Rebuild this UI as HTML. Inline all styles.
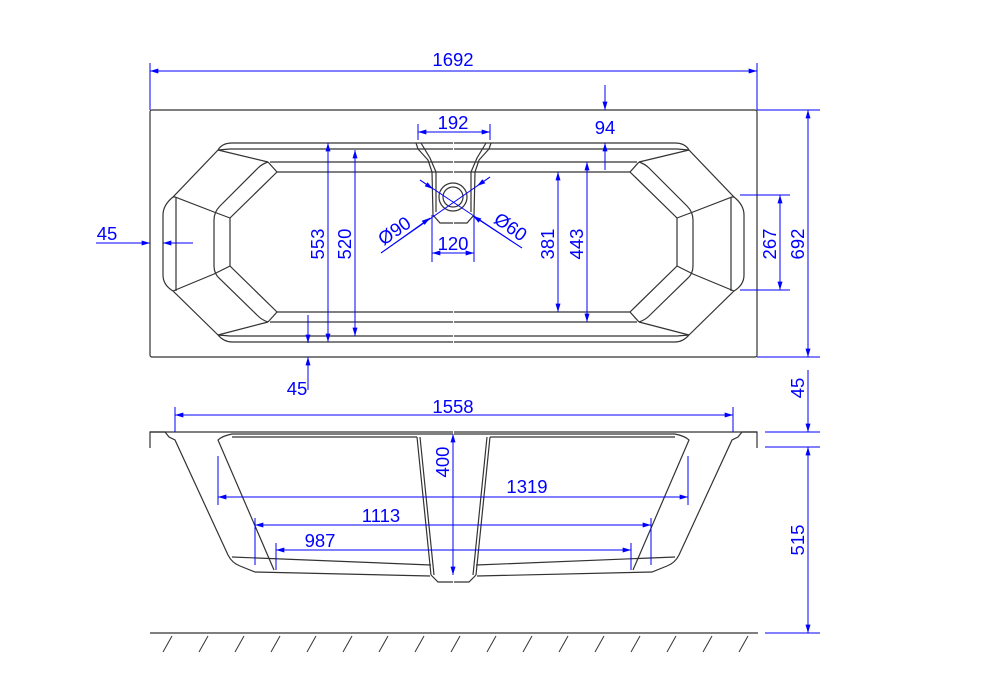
<!DOCTYPE html>
<html><head><meta charset="utf-8"><style>
html,body{margin:0;padding:0;background:#fff;}
svg{display:block;}
text{font-family:"Liberation Sans",sans-serif;font-size:18.5px;fill:#0000ff;}
</style></head><body>
<svg width="993" height="700" viewBox="0 0 993 700" xmlns="http://www.w3.org/2000/svg">
<defs>
<marker id="a" viewBox="0 0 10 6" refX="10" refY="3" markerWidth="12" markerHeight="5" markerUnits="userSpaceOnUse" orient="auto-start-reverse"><path d="M0,0 L10,3 L0,6 z" fill="#0000ff"/></marker>
</defs>
<g fill="none" stroke="#333" stroke-width="1.2">
<rect x="150" y="110" width="607" height="247" rx="2"/>
<g id="half">
<path d="M453,143 L232,143 Q222,143 218,150 L173,197 Q163,205 163,215 L163,275 Q163,285 173,291 L218,335 Q224,342 232,342 L453,342"/>
<path d="M453,149 L230,149 L218,150"/>
<path d="M453,336 L230,336 L218,335"/>
<path d="M218,150 L268,162 M218,335 L268,322"/>
<path d="M270,162 L453,162 M270,322 L453,322"/>
<path d="M268,162 Q262,164 258,168 L220,206 Q214,212 214,220 L214,266 Q214,274 220,279 L258,316 Q262,320 268,322"/>
<path d="M277,172 L453,172 M277,312 L453,312"/>
<path d="M277,172 L230,218 L230,266 L277,312"/>
<path d="M277,172 L268,162 M277,312 L268,322"/>
<path d="M173,197 L175,197 L214,212 M173,291 L214,274 M214,212 L230,218 M214,274 L230,266"/>
<path d="M176,197 L176,291"/>
<path d="M416,143 L418,149 L428,160 L432,172 L433,215 L440,223 L453,223"/>
<path d="M421,143 L430,158 L436,172 L436,212"/>
<path d="M150,448 L150,432 L453,432"/>
<path d="M150,432 L165,432 L169,437 L175,440 L228,555 Q232,563 240,566 L255,572 L430,576"/>
<path d="M232,434 L453,434 M232,437 L417,437"/>
<path d="M232,434 Q222,436 218,440 L274,570"/>
<path d="M232,557 L431,565"/>
<path d="M417,437 L431,575 M420,437 L434,575"/>
<path d="M431,575 L438,582 L453,582"/>
</g>
<use href="#half" transform="translate(907,0) scale(-1,1)"/>
<circle cx="453" cy="197" r="14"/>
<circle cx="453" cy="197" r="10"/>
<path d="M150,633 L758,633"/>
<path d="M172,636 L163,652 M208,636 L199,652 M244,636 L235,652 M280,636 L271,652 M316,636 L307,652 M352,636 L343,652 M388,636 L379,652 M424,636 L415,652 M460,636 L451,652 M496,636 L487,652 M532,636 L523,652 M568,636 L559,652 M604,636 L595,652 M640,636 L631,652 M676,636 L667,652 M712,636 L703,652 M748,636 L739,652" stroke-width="1"/>
</g>
<g stroke="#0000ff" stroke-width="1" fill="none">
<path d="M150,63 L150,110 M757,63 L757,110"/>
<path d="M757,110 L820,110 M757,357 L820,357 M740,195 L790,195 M740,290 L790,290"/>
<path d="M418,124 L418,140 M490,124 L490,140"/>
<path d="M432,215 L432,262 M474,215 L474,262"/>
<path d="M175,407 L175,432 M733,407 L733,432"/>
<path d="M218,456 L218,505 M688,456 L688,505"/>
<path d="M255,518 L255,565 M651,518 L651,565"/>
<path d="M276,543 L276,570 M631,543 L631,570"/>
<path d="M765,432 L820,432 M765,447 L820,447 M765,633 L820,633"/>
<path d="M150,71 L757,71" marker-start="url(#a)" marker-end="url(#a)"/>
<path d="M418,132 L490,132" marker-start="url(#a)" marker-end="url(#a)"/>
<path d="M432,253 L474,253" marker-start="url(#a)" marker-end="url(#a)"/>
<path d="M808,110 L808,357" marker-start="url(#a)" marker-end="url(#a)"/>
<path d="M780,195 L780,290" marker-start="url(#a)" marker-end="url(#a)"/>
<path d="M587,162 L587,322" marker-start="url(#a)" marker-end="url(#a)"/>
<path d="M558,172 L558,312" marker-start="url(#a)" marker-end="url(#a)"/>
<path d="M328,143 L328,342" marker-start="url(#a)" marker-end="url(#a)"/>
<path d="M355,150 L355,336" marker-start="url(#a)" marker-end="url(#a)"/>
<path d="M605,85 L605,110" marker-end="url(#a)"/>
<path d="M605,170 L605,143" marker-end="url(#a)"/>
<path d="M96,243 L150,243" marker-end="url(#a)"/>
<path d="M193,243 L163,243" marker-end="url(#a)"/>
<path d="M308,315 L308,343" marker-end="url(#a)"/>
<path d="M308,390 L308,357" marker-end="url(#a)"/>
<path d="M381,253 L490,177"/>
<path d="M381,253 L430,218" marker-end="url(#a)"/>
<path d="M490,177 L477,186" marker-end="url(#a)"/>
<path d="M420,180 L522,248"/>
<path d="M420,180 L433,189" marker-end="url(#a)"/>
<path d="M522,248 L473,216" marker-end="url(#a)"/>
<path d="M175,415 L733,415" marker-start="url(#a)" marker-end="url(#a)"/>
<path d="M218,497 L688,497" marker-start="url(#a)" marker-end="url(#a)"/>
<path d="M255,525 L651,525" marker-start="url(#a)" marker-end="url(#a)"/>
<path d="M276,550 L631,550" marker-start="url(#a)" marker-end="url(#a)"/>
<path d="M453,434 L453,575" marker-start="url(#a)" marker-end="url(#a)"/>
<path d="M808,447 L808,633" marker-start="url(#a)" marker-end="url(#a)"/>
<path d="M808,370 L808,432" marker-end="url(#a)"/>
<path d="M808,470 L808,447"/>
</g>
<g>
<text x="453" y="66" text-anchor="middle">1692</text>
<text x="453" y="129" text-anchor="middle">192</text>
<text x="453" y="250" text-anchor="middle">120</text>
<text x="605" y="134" text-anchor="middle">94</text>
<text x="107" y="240" text-anchor="middle">45</text>
<text x="297" y="395" text-anchor="middle">45</text>
<text x="453" y="413" text-anchor="middle">1558</text>
<text x="527" y="493" text-anchor="middle">1319</text>
<text x="381" y="522" text-anchor="middle">1113</text>
<text x="320" y="547" text-anchor="middle">987</text>
<text transform="translate(324,244) rotate(-90)" text-anchor="middle">553</text>
<text transform="translate(351,244) rotate(-90)" text-anchor="middle">520</text>
<text transform="translate(554,244) rotate(-90)" text-anchor="middle">381</text>
<text transform="translate(583,244) rotate(-90)" text-anchor="middle">443</text>
<text transform="translate(776,244) rotate(-90)" text-anchor="middle">267</text>
<text transform="translate(804,244) rotate(-90)" text-anchor="middle">692</text>
<text transform="translate(449,462) rotate(-90)" text-anchor="middle">400</text>
<text transform="translate(804,540) rotate(-90)" text-anchor="middle">515</text>
<text transform="translate(804,388) rotate(-90)" text-anchor="middle">45</text>
<text transform="translate(398,236) rotate(-35)" text-anchor="middle">Ø90</text>
<text transform="translate(507,232) rotate(35)" text-anchor="middle">Ø60</text>
</g>
</svg>
</body></html>
